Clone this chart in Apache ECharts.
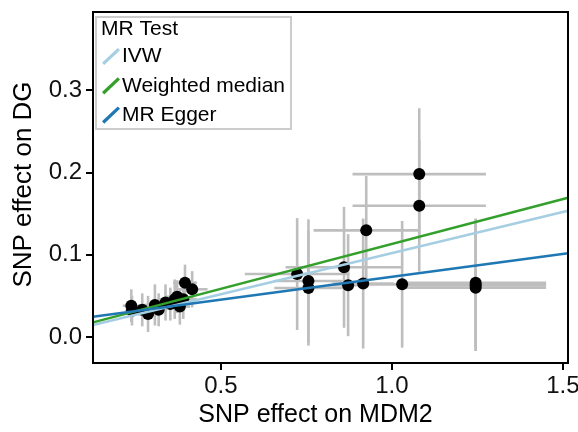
<!DOCTYPE html>
<html>
<head>
<meta charset="utf-8">
<script src="https://cdn.jsdelivr.net/npm/echarts@6/dist/echarts.min.js"></script>
<style>html,body{margin:0;padding:0;background:#fff}#c{width:578px;height:432px}</style>
</head>
<body>
<div id="c"></div>
<script>
// SNP effects
const snpX = [0.238, 0.240, 0.270, 0.287, 0.307, 0.318, 0.338, 0.352, 0.365, 0.372, 0.380, 0.390, 0.395, 0.416,
              0.723, 0.860, 0.756, 0.756, 0.872, 0.916, 0.925, 1.030, 1.080, 1.080, 1.245, 1.245, 1.245];
const snpY = [0.038, 0.032, 0.033, 0.028, 0.039, 0.033, 0.042, 0.040, 0.046, 0.049, 0.037, 0.046, 0.066, 0.058,
              0.0765, 0.0847, 0.068, 0.0595, 0.063, 0.065, 0.1296, 0.064, 0.198, 0.1595, 0.066, 0.063, 0.060];
// half-widths of the error bars
const errX = [0.025, 0.020, 0.025, 0.030, 0.030, 0.025, 0.035, 0.030, 0.035, 0.030, 0.030, 0.040, 0.035, 0.045,
              0.153, 0.171, 0.100, 0.100, 0.060, 0.090, 0.154, 0.100, 0.195, 0.195, 0.206, 0.206, 0.206];
const errY = [0.020, 0.018, 0.020, 0.022, 0.025, 0.020, 0.022, 0.020, 0.024, 0.020, 0.022, 0.024, 0.022, 0.022,
              0.068, 0.0735, 0.075, 0.070, 0.062, 0.079, 0.066, 0.077, 0.080, 0.080, 0.078, 0.080, 0.077];
// MR fit lines (end points at the plot edges)
const ivwLine = [[0.126, 0.0146], [1.515, 0.1534]];
const wmLine = [[0.126, 0.0178], [1.515, 0.1692]];
const eggerLine = [[0.126, 0.0247], [1.515, 0.1017]];
const xTicks = [0.5, 1.0, 1.5];
const yTicks = [0.0, 0.1, 0.2, 0.3];
const methods = ['IVW', 'Weighted median', 'MR Egger'];
const methodColors = ['#a6cee3', '#33a02c', '#1f78b4'];

const points = snpX.map((x, i) => [x, snpY[i], errX[i], errY[i]]);

const chart = echarts.init(document.getElementById('c'), null, {renderer: 'canvas'});
const fontFam = '"Liberation Sans", Arial, sans-serif';
const axisCommon = {
  type: 'value',
  splitLine: {show: false},
  axisLine: {show: true, onZero: false, lineStyle: {color: '#000', width: 2}},
  nameLocation: 'middle'
};
const option = {
  animation: false,
  backgroundColor: '#fff',
  grid: {left: 93, right: 10, top: 12, bottom: 69, show: true, borderColor: '#000', borderWidth: 2,
         backgroundColor: 'transparent', z: 5, containLabel: false, outerBoundsMode: 'none'},
  xAxis: Object.assign({}, axisCommon, {
    min: 0.126, max: 1.515,
    axisTick: {show: true, inside: false, customValues: xTicks, length: 7, lineStyle: {color: '#000', width: 2}},
    axisLabel: {customValues: xTicks, formatter: v => v.toFixed(1), fontSize: 24, color: '#111', margin: 11, fontFamily: fontFam},
    name: 'SNP effect on MDM2', nameGap: 33,
    nameTextStyle: {fontSize: 25, color: '#000', fontFamily: fontFam, padding: [0, 30, 0, 0]}
  }),
  yAxis: Object.assign({}, axisCommon, {
    min: -0.0316, max: 0.395,
    axisTick: {show: true, inside: false, customValues: yTicks, length: 7, lineStyle: {color: '#000', width: 2}},
    axisLabel: {customValues: yTicks, formatter: v => v.toFixed(1), fontSize: 24, color: '#111', margin: 11, fontFamily: fontFam},
    name: 'SNP effect on DG', nameGap: 56,
    nameTextStyle: {fontSize: 26, color: '#000', fontFamily: fontFam, padding: [0, 0, 0, 6]}
  }),
  legend: {
    data: methods, orient: 'vertical', left: 102, top: 46,
    itemWidth: 18, itemHeight: 18, itemGap: 8.3, padding: 0,
    icon: 'path://M0,16 L17,0 L19.4,2.5 L2.4,18.5 Z',
    itemStyle: {borderWidth: 0},
    textStyle: {fontSize: 21, lineHeight: 20, color: '#000', fontFamily: fontFam, padding: [0, 0, 0, -3]},
    z: 20
  },
  graphic: [
    {type: 'rect', left: 95, top: 16, shape: {width: 195, height: 112}, style: {fill: '#fff', stroke: '#cccccc', lineWidth: 2}, z: 15},
    {type: 'text', left: 101, top: 19, style: {text: 'MR Test', fontSize: 21, fill: '#000', fontFamily: fontFam}, z: 16}
  ],
  series: [
    {
      type: 'custom', name: 'errorbars', clip: true, z: 1,
      data: points,
      encode: {x: 0, y: 1},
      renderItem: function (params, api) {
        const x = api.value(0), y = api.value(1), sx = api.value(2), sy = api.value(3);
        const h1 = api.coord([x - sx, y]), h2 = api.coord([x + sx, y]);
        const v1 = api.coord([x, y - sy]), v2 = api.coord([x, y + sy]);
        const st = {stroke: '#bebebe', lineWidth: 2.6};
        return {type: 'group', children: [
          {type: 'line', shape: {x1: h1[0], y1: h1[1], x2: h2[0], y2: h2[1]}, style: st},
          {type: 'line', shape: {x1: v1[0], y1: v1[1], x2: v2[0], y2: v2[1]}, style: st}
        ]};
      }
    },
    {
      type: 'scatter', name: 'SNPs', z: 2,
      data: points.map(p => [p[0], p[1]]),
      symbolSize: 12, itemStyle: {color: '#000', opacity: 1}
    },
    {type: 'line', name: methods[0], data: ivwLine, showSymbol: false, z: 3, color: methodColors[0], lineStyle: {width: 2.5, color: methodColors[0]}},
    {type: 'line', name: methods[1], data: wmLine, showSymbol: false, z: 3, color: methodColors[1], lineStyle: {width: 2.5, color: methodColors[1]}},
    {type: 'line', name: methods[2], data: eggerLine, showSymbol: false, z: 3, color: methodColors[2], lineStyle: {width: 2.5, color: methodColors[2]}}
  ]
};
chart.setOption(option);
</script>
</body>
</html>
